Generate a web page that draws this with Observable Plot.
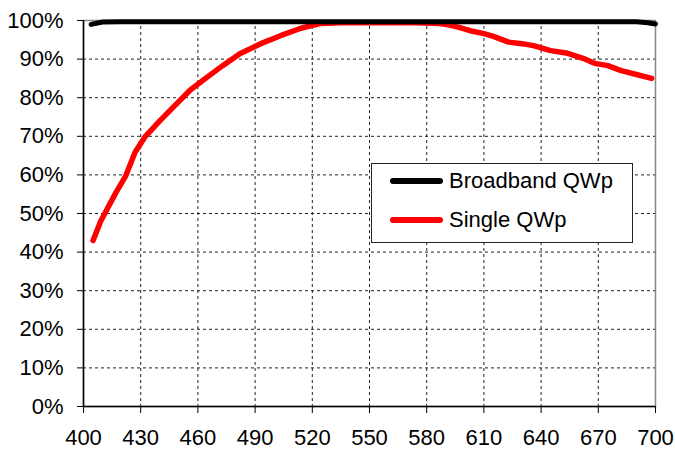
<!DOCTYPE html>
<html><head><meta charset="utf-8">
<script src="https://cdn.jsdelivr.net/npm/d3@7"></script>
<script src="https://cdn.jsdelivr.net/npm/@observablehq/plot@0.6"></script>
<style>
body{margin:0;background:#fff;font-family:"Liberation Sans",Arial,sans-serif}
#wrap{position:relative;width:675px;height:450px}
#legend{position:absolute;left:371px;top:163px;width:260px;height:78px;border:1.5px solid #222;background:#fff}
.row{position:absolute;left:18px;height:26px;display:flex;align-items:center;font-size:22px;color:#000}
.sw{width:53px;height:6px;border-radius:3px;margin-right:6px}
</style></head>
<body><div id="wrap"><div id="legend"></div></div>
<script>
const seriesNames = ["Broadband QWp", "Single QWp"];
const seriesColors = ["#000000", "#ff0000"];
const xTicks = [400,430,460,490,520,550,580,610,640,670,700];
const yTicks = [0,10,20,30,40,50,60,70,80,90,100];

const broadWl  = [404,410,420,450,500,550,600,650,690,696,700];
const broadVal = [99.0,99.6,99.7,99.7,99.7,99.7,99.7,99.7,99.7,99.4,99.1];

const singleWl  = [405,409,417,422,427,432,440,448,456,464,473,482,493,503,514,524,535,545,555,565,575,587,592,597,604,610,615,623,630,636,645,654,662,668,675,682,690,698];
const singleVal = [43,48,55.4,59.6,65.8,69.7,74,78,82,85,88.3,91.4,94,96,98,99.2,99.4,99.4,99.4,99.4,99.4,99.2,98.8,98.2,97.2,96.6,95.9,94.4,94,93.5,92.2,91.5,90.2,88.9,88.3,87,86,85];

const broad = broadWl.map((x,i)=>({x, y: broadVal[i]}));
const single = singleWl.map((x,i)=>({x, y: singleVal[i]}));

const chart = Plot.plot({
  width: 675, height: 450,
  marginLeft: 83, marginRight: 20, marginTop: 20, marginBottom: 44,
  x: {domain: [400,700]},
  y: {domain: [0,100]},
  style: {fontFamily: '"Liberation Sans", Arial, sans-serif', fontSize: "22px", color: "#000", background: "#fff", overflow: "visible"},
  marks: [
    Plot.gridX(xTicks, {stroke: "#222", strokeOpacity: 1, strokeWidth: 1, strokeDasharray: "3,3"}),
    Plot.gridY(yTicks, {stroke: "#222", strokeOpacity: 1, strokeWidth: 1, strokeDasharray: "3,3"}),
    Plot.frame({stroke: "#888", strokeWidth: 1.5}),
    Plot.axisX(xTicks, {tickSize: 7, tickPadding: 16, label: null, tickFormat: d => String(d)}),
    Plot.axisY(yTicks, {tickSize: 6, tickPadding: 14, label: null, tickFormat: d => d + "%"}),
    Plot.ruleX([400], {stroke: "#000", strokeWidth: 1.5}),
    Plot.ruleY([0], {stroke: "#000", strokeWidth: 1.5}),
    Plot.line(single, {x: "x", y: "y", stroke: seriesColors[1], strokeWidth: 5.5, strokeLinejoin: "round", strokeLinecap: "round"}),
    Plot.line(broad, {x: "x", y: "y", stroke: seriesColors[0], strokeWidth: 5, strokeLinejoin: "round", strokeLinecap: "round"})
  ]
});
document.getElementById("wrap").prepend(chart);

const legend = document.getElementById("legend");
seriesNames.forEach((name, i) => {
  const row = document.createElement("div");
  row.className = "row";
  row.style.top = (i === 0 ? 4 : 43) + "px";
  const sw = document.createElement("div");
  sw.className = "sw";
  sw.style.background = seriesColors[i];
  const t = document.createElement("span");
  t.textContent = name;
  row.append(sw, t);
  legend.append(row);
});
</script></body></html>
